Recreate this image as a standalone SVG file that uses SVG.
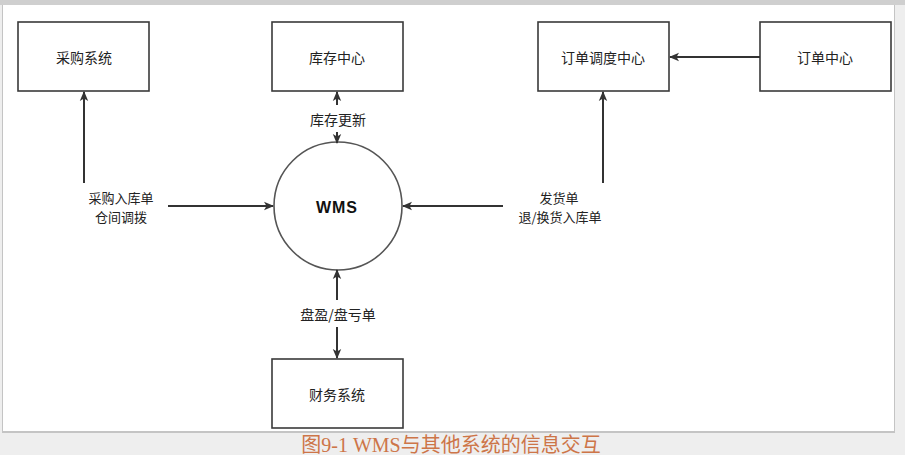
<svg xmlns="http://www.w3.org/2000/svg" width="905" height="455" viewBox="0 0 905 455">
<style>
.box{fill:#fff;stroke:#3a3a3a;stroke-width:1.6}
.lbl{font-family:"Noto Sans CJK SC","Liberation Sans",sans-serif;font-size:14px;fill:#222;text-anchor:middle;dominant-baseline:central}
.l2{font-size:13px}
.ln{stroke:#333;stroke-width:2;fill:none;marker-end:url(#ah)}
</style>
<defs>
<marker id="ah" markerWidth="10" markerHeight="10" refX="9" refY="5" orient="auto" markerUnits="userSpaceOnUse">
<path d="M0,0.8 L10,5 L0,9.2 L2.5,5 Z" fill="#333"/>
</marker>
</defs>
<rect x="0" y="0" width="905" height="455" fill="#eeeeee"/>
<rect x="0" y="0" width="905" height="5" fill="#cfcfcf"/>
<rect x="2" y="5" width="893" height="428" fill="#c4c4c4"/>
<rect x="3" y="5" width="891" height="426" fill="#ffffff"/>
<g id="caigou"><rect class="box" x="18" y="22" width="131" height="69"/><text class="lbl" x="84" y="57">采购系统</text></g>
<g id="kucun"><rect class="box" x="272" y="22" width="131" height="69"/><text class="lbl" x="337" y="57">库存中心</text></g>
<g id="diaodu"><rect class="box" x="538" y="22" width="131" height="69"/><text class="lbl" x="603" y="57">订单调度中心</text></g>
<g id="dingdan"><rect class="box" x="760" y="22" width="131" height="69"/><text class="lbl" x="825" y="57">订单中心</text></g>
<g id="caiwu"><rect class="box" x="272" y="359" width="131" height="69"/><text class="lbl" x="337" y="394">财务系统</text></g>
<g id="wms"><circle cx="338" cy="206" r="64" fill="#fff" stroke="#555" stroke-width="1.6"/><text x="337" y="207" font-family="Liberation Sans,Arial,sans-serif" font-size="16" font-weight="bold" letter-spacing="1" fill="#111" text-anchor="middle" dominant-baseline="central">WMS</text></g>
<g id="connectors">
<line class="ln" x1="760" y1="57" x2="670" y2="57"/>
<line class="ln" x1="84" y1="183" x2="84" y2="92"/>
<line class="ln" x1="168" y1="206" x2="273" y2="206"/>
<line class="ln" x1="503" y1="206" x2="403" y2="206"/>
<line class="ln" x1="603" y1="183" x2="603" y2="92"/>
<line class="ln" x1="337" y1="105" x2="337" y2="92"/>
<line class="ln" x1="337" y1="132" x2="337" y2="143"/>
<line class="ln" x1="337" y1="300" x2="337" y2="270"/>
<line class="ln" x1="337" y1="327" x2="337" y2="358"/>
<text class="lbl l2" x="121" y="197">采购入库单</text>
<text class="lbl l2" x="121" y="216">仓间调拨</text>
<text class="lbl l2" x="559" y="197">发货单</text>
<text class="lbl l2" x="560" y="216">退/换货入库单</text>
<text class="lbl" x="338" y="119">库存更新</text>
<text class="lbl" x="338" y="314">盘盈/盘亏单</text>
</g>
<text x="451" y="452" font-family="Liberation Serif,'Noto Sans CJK SC',serif" font-size="20" fill="#cd7548" text-anchor="middle">图9-1 WMS与其他系统的信息交互</text>
</svg>
